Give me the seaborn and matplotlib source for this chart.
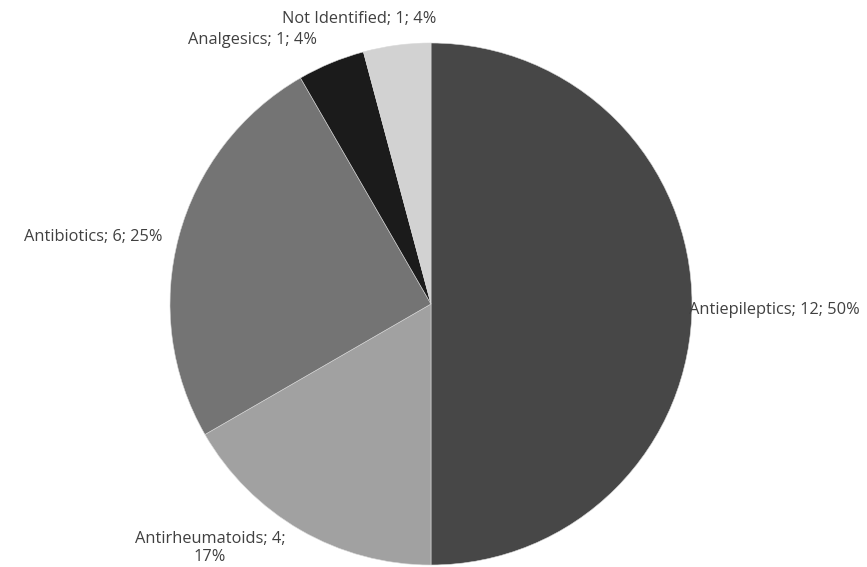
import matplotlib
matplotlib.use("Agg")
import matplotlib.pyplot as plt
import seaborn as sns

categories = ["Antiepileptics", "Antirheumatoids", "Antibiotics", "Analgesics", "Not Identified"]
counts = [12, 4, 6, 1, 1]
colors = ["#474747", "#a1a1a1", "#747474", "#1b1b1b", "#d2d2d2"]

# label anchor (pixel coords from top-left), alignment
label_pos = [(689, 310, "left"), (210, 548, "center"), (162, 237, "right"),
             (252, 40, "center"), (359, 19, "center")]

sns.set_theme(style="white")
plt.rcParams["font.family"] = ["Open Sans", "DejaVu Sans"]

W, H = 867, 567
fig = plt.figure(figsize=(W / 100, H / 100), dpi=100)
ax = fig.add_axes([0, 0, 1, 1])

cx, cy, r = 431, 304, 261
total = sum(counts)
ax.pie(counts, colors=colors, startangle=90, counterclock=False,
       center=(cx, H - cy), radius=r,
       wedgeprops=dict(edgecolor="#d9d9d9", linewidth=0.4))
ax.set_xlim(0, W)
ax.set_ylim(0, H)
ax.set_aspect("auto")
ax.axis("off")

for cat, n, (px, py, ha) in zip(categories, counts, label_pos):
    pct = round(100 * n / total)
    if cat == "Antirheumatoids":
        txt = f"{cat}; {n};\n{pct}%"
    else:
        txt = f"{cat}; {n}; {pct}%"
    ax.text(px, H - py, txt, ha=ha, va="center", fontsize=11.8,
            color="#404040", linespacing=1.15)

fig.savefig("out.png", dpi=100, facecolor="white")
